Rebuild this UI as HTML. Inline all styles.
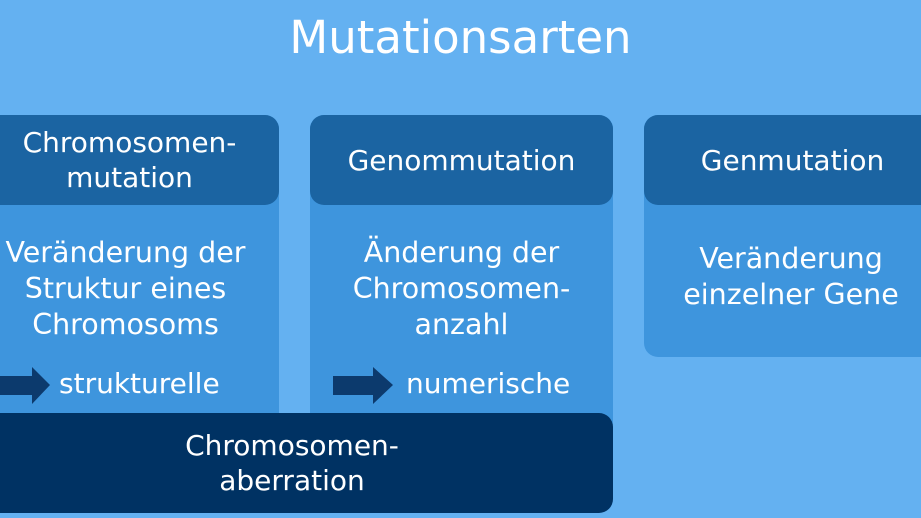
<!DOCTYPE html>
<html><head><meta charset="utf-8"><style>
body{margin:0;width:921px;height:518px;overflow:hidden;background:#64b1f1;font-family:"DejaVu Sans","Liberation Sans",sans-serif;color:#fff;position:relative}
.a{position:absolute}
.t{left:0;width:921px;top:10px;text-align:center;font-size:45px;line-height:56px}
.box{background:#3e95dd;border-radius:14px}
.hd{background:#1b64a2;border-radius:14px;display:flex;align-items:center;justify-content:center;text-align:center;font-size:28px;line-height:35px}
.bd{text-align:center;font-size:28.5px;line-height:36px}
.lbl{font-size:28px;line-height:36px}
</style></head><body>
<div class="a t">Mutationsarten</div>

<div class="a box" style="left:-20px;top:115px;width:299px;height:320px"></div>
<div class="a hd" style="left:-20px;top:115px;width:299px;height:90px"><div>Chromosomen-<br>mutation</div></div>
<div class="a bd" style="left:-14px;top:235px;width:279px;white-space:nowrap">Veränderung der<br>Struktur eines<br>Chromosoms</div>

<div class="a box" style="left:310px;top:115px;width:303px;height:320px"></div>
<div class="a hd" style="left:310px;top:115px;width:303px;height:90px">Genommutation</div>
<div class="a bd" style="left:310px;top:235px;width:303px">Änderung der<br>Chromosomen-<br>anzahl</div>

<div class="a box" style="left:644px;top:115px;width:300px;height:242px"></div>
<div class="a hd" style="left:644px;top:115px;width:300px;height:90px"><div style="margin-right:3px">Genmutation</div></div>
<div class="a bd" style="left:651px;top:241px;width:280px">Veränderung<br>einzelner Gene</div>

<svg class="a" style="left:0;top:366px" width="52" height="40"><polygon points="0,10 32,10 32,1 50,19 32,38 32,29 0,29" fill="#0c3a6d"/></svg>
<div class="a lbl" style="left:59px;top:366px">strukturelle</div>
<svg class="a" style="left:333px;top:366px" width="62" height="40"><polygon points="0,10 40,10 40,1 60,19 40,38 40,29 0,29" fill="#0c3a6d"/></svg>
<div class="a lbl" style="left:406px;top:366px">numerische</div>

<div class="a" style="left:-20px;top:413px;width:633px;height:100px;background:#003263;border-radius:14px"></div>
<div class="a bd" style="left:0;top:428px;width:584px;line-height:35px;font-size:28px">Chromosomen-<br>aberration</div>
</body></html>
